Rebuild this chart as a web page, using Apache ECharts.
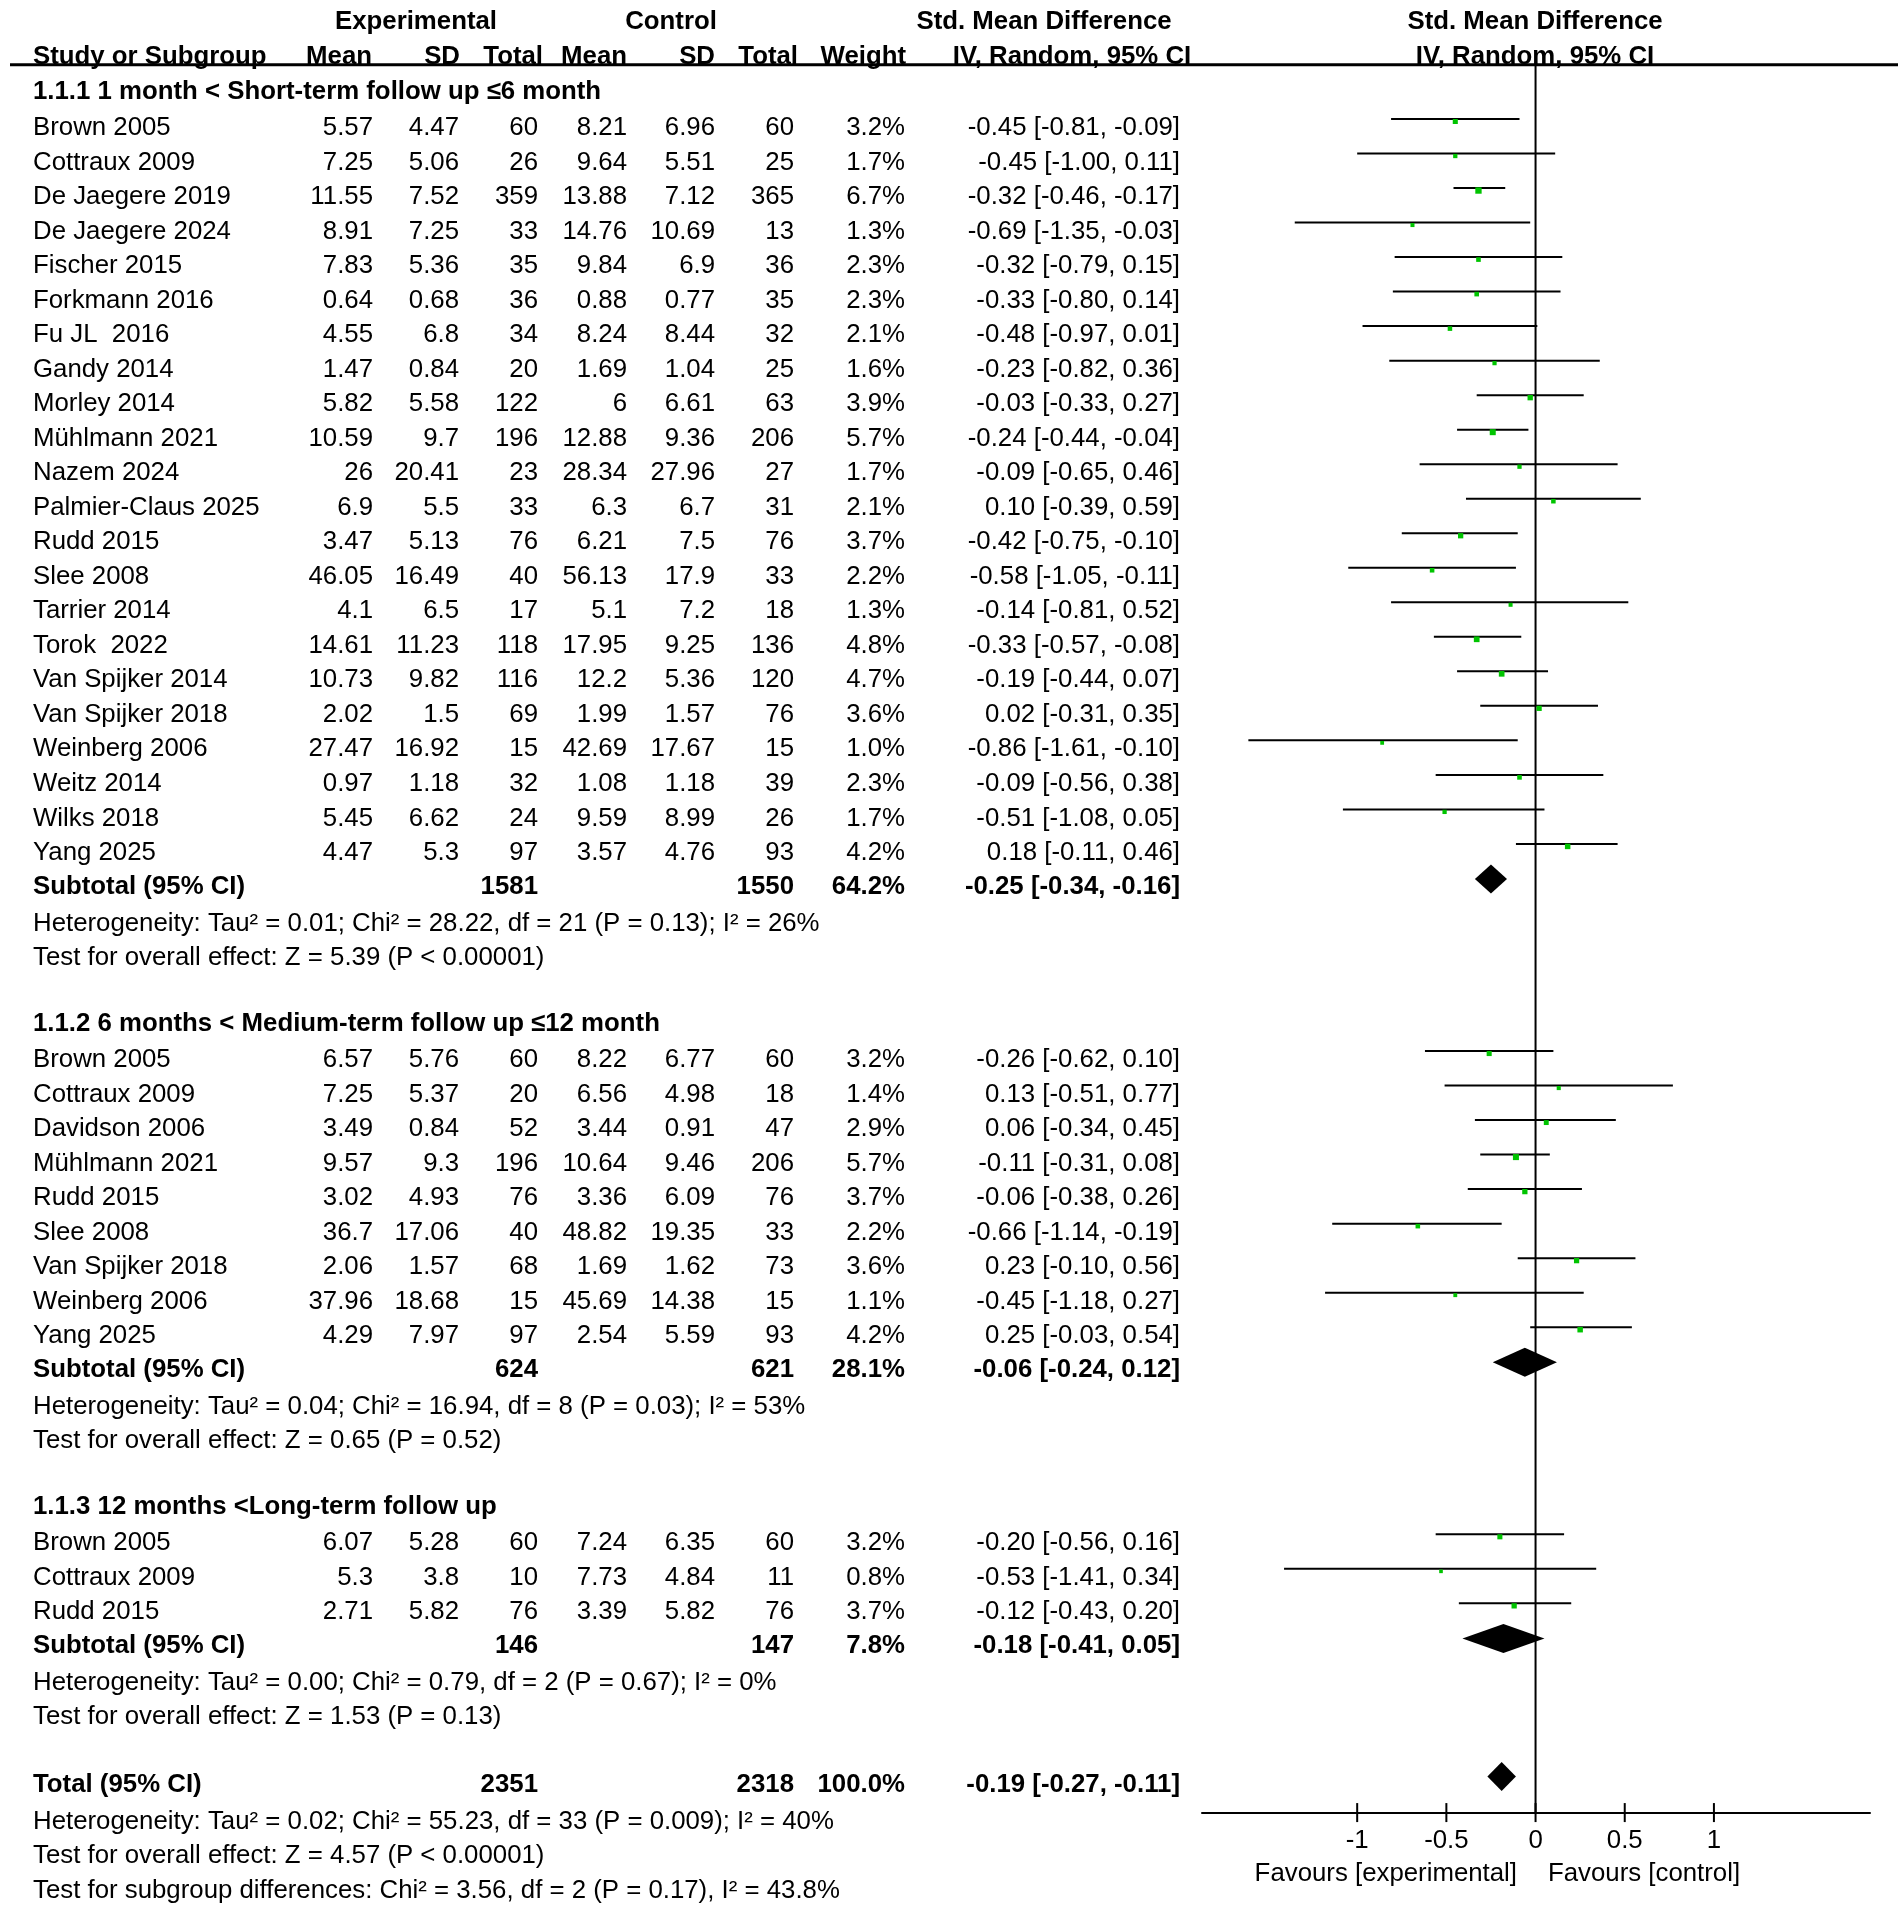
<!DOCTYPE html>
<html><head><meta charset="utf-8">
<script src="https://cdn.jsdelivr.net/npm/echarts@6/dist/echarts.min.js"></script>
<style>html,body{margin:0;padding:0;background:#fff;}#c{width:1901px;height:1916px;}</style>
</head><body><div id="c"></div>
<script>
// ---------- DATA ----------
const groupTitles = [
  "1.1.1 1 month < Short-term follow up \u22646 month",
  "1.1.2 6 months < Medium-term follow up \u226412 month",
  "1.1.3 12 months <Long-term follow up"
];
const studyGroup = [0,0,0,0,0,0,0,0,0,0,0,0,0,0,0,0,0,0,0,0,0,0, 1,1,1,1,1,1,1,1,1, 2,2,2];
const studyNames = [
  "Brown 2005","Cottraux 2009","De Jaegere 2019","De Jaegere 2024","Fischer 2015","Forkmann 2016","Fu JL  2016","Gandy 2014","Morley 2014","M\u00fchlmann 2021","Nazem 2024","Palmier-Claus 2025","Rudd 2015","Slee 2008","Tarrier 2014","Torok  2022","Van Spijker 2014","Van Spijker 2018","Weinberg 2006","Weitz 2014","Wilks 2018","Yang 2025",
  "Brown 2005","Cottraux 2009","Davidson 2006","M\u00fchlmann 2021","Rudd 2015","Slee 2008","Van Spijker 2018","Weinberg 2006","Yang 2025",
  "Brown 2005","Cottraux 2009","Rudd 2015"
];
const expMean = [5.57,7.25,11.55,8.91,7.83,0.64,4.55,1.47,5.82,10.59,26,6.9,3.47,46.05,4.1,14.61,10.73,2.02,27.47,0.97,5.45,4.47,
  6.57,7.25,3.49,9.57,3.02,36.7,2.06,37.96,4.29, 6.07,5.3,2.71];
const expSD = [4.47,5.06,7.52,7.25,5.36,0.68,6.8,0.84,5.58,9.7,20.41,5.5,5.13,16.49,6.5,11.23,9.82,1.5,16.92,1.18,6.62,5.3,
  5.76,5.37,0.84,9.3,4.93,17.06,1.57,18.68,7.97, 5.28,3.8,5.82];
const expTotal = [60,26,359,33,35,36,34,20,122,196,23,33,76,40,17,118,116,69,15,32,24,97,
  60,20,52,196,76,40,68,15,97, 60,10,76];
const ctlMean = [8.21,9.64,13.88,14.76,9.84,0.88,8.24,1.69,6,12.88,28.34,6.3,6.21,56.13,5.1,17.95,12.2,1.99,42.69,1.08,9.59,3.57,
  8.22,6.56,3.44,10.64,3.36,48.82,1.69,45.69,2.54, 7.24,7.73,3.39];
const ctlSD = [6.96,5.51,7.12,10.69,6.9,0.77,8.44,1.04,6.61,9.36,27.96,6.7,7.5,17.9,7.2,9.25,5.36,1.57,17.67,1.18,8.99,4.76,
  6.77,4.98,0.91,9.46,6.09,19.35,1.62,14.38,5.59, 6.35,4.84,5.82];
const ctlTotal = [60,25,365,13,36,35,32,25,63,206,27,31,76,33,18,136,120,76,15,39,26,93,
  60,18,47,206,76,33,73,15,93, 60,11,76];
const studyWeight = [3.2,1.7,6.7,1.3,2.3,2.3,2.1,1.6,3.9,5.7,1.7,2.1,3.7,2.2,1.3,4.8,4.7,3.6,1.0,2.3,1.7,4.2,
  3.2,1.4,2.9,5.7,3.7,2.2,3.6,1.1,4.2, 3.2,0.8,3.7];
const studySMD = [-0.45,-0.45,-0.32,-0.69,-0.32,-0.33,-0.48,-0.23,-0.03,-0.24,-0.09,0.10,-0.42,-0.58,-0.14,-0.33,-0.19,0.02,-0.86,-0.09,-0.51,0.18,
  -0.26,0.13,0.06,-0.11,-0.06,-0.66,0.23,-0.45,0.25, -0.20,-0.53,-0.12];
const studyLow = [-0.81,-1.00,-0.46,-1.35,-0.79,-0.80,-0.97,-0.82,-0.33,-0.44,-0.65,-0.39,-0.75,-1.05,-0.81,-0.57,-0.44,-0.31,-1.61,-0.56,-1.08,-0.11,
  -0.62,-0.51,-0.34,-0.31,-0.38,-1.14,-0.10,-1.18,-0.03, -0.56,-1.41,-0.43];
const studyHigh = [-0.09,0.11,-0.17,-0.03,0.15,0.14,0.01,0.36,0.27,-0.04,0.46,0.59,-0.10,-0.11,0.52,-0.08,0.07,0.35,-0.10,0.38,0.05,0.46,
  0.10,0.77,0.45,0.08,0.26,-0.19,0.56,0.27,0.54, 0.16,0.34,0.20];

const subExpTotal = [1581, 624, 146];
const subCtlTotal = [1550, 621, 147];
const subWeight = [64.2, 28.1, 7.8];
const subSMD = [-0.25, -0.06, -0.18];
const subLow = [-0.34, -0.24, -0.41];
const subHigh = [-0.16, 0.12, 0.05];
const subHet = [
  "Heterogeneity: Tau\u00b2 = 0.01; Chi\u00b2 = 28.22, df = 21 (P = 0.13); I\u00b2 = 26%",
  "Heterogeneity: Tau\u00b2 = 0.04; Chi\u00b2 = 16.94, df = 8 (P = 0.03); I\u00b2 = 53%",
  "Heterogeneity: Tau\u00b2 = 0.00; Chi\u00b2 = 0.79, df = 2 (P = 0.67); I\u00b2 = 0%"
];
const subTest = [
  "Test for overall effect: Z = 5.39 (P < 0.00001)",
  "Test for overall effect: Z = 0.65 (P = 0.52)",
  "Test for overall effect: Z = 1.53 (P = 0.13)"
];
const totalValues = [2351, 2318, 100.0, -0.19, -0.27, -0.11]; // expN, ctlN, weight, smd, low, high
const totalNotes = [
  "Heterogeneity: Tau\u00b2 = 0.02; Chi\u00b2 = 55.23, df = 33 (P = 0.009); I\u00b2 = 40%",
  "Test for overall effect: Z = 4.57 (P < 0.00001)",
  "Test for subgroup differences: Chi\u00b2 = 3.56, df = 2 (P = 0.17), I\u00b2 = 43.8%"
];
const xTicks = [-1, -0.5, 0, 0.5, 1];
const favourLabels = ["Favours [experimental]", "Favours [control]"];

// ---------- LAYOUT ----------
const FS = 25.8;
const FONT = '"Liberation Sans", Arial, Helvetica, sans-serif';
const COL = {name:33, expMean:373, expSD:459, expTotal:538, ctlMean:627, ctlSD:715, ctlTotal:794, weight:905, ci:1180};
const HCOL = {expMean:372, expSD:460, expTotal:543, ctlMean:627, ctlSD:715, ctlTotal:798, weight:906};
const ROW_TOP = -3.5, ROW_BOT = 51.5, ROW_AXIS = 48.80, ROW_LINE = -1.83;
const ROWPX = 34.52, Y0 = 128;
const gridTop = Y0 + ROW_TOP * ROWPX;

const fmtCI = (m,l,h) => m.toFixed(2) + " [" + l.toFixed(2) + ", " + h.toFixed(2) + "]";
const rows = [];   // text rows
const studyMarks = [];
const diamondMarks = [];

rows.push({k:-3.07, cells:[
  {x:416, t:"Experimental", b:1, a:'center'},
  {x:671, t:"Control", b:1, a:'center'},
  {x:1044, t:"Std. Mean Difference", b:1, a:'center'},
  {x:1535, t:"Std. Mean Difference", b:1, a:'center'}
]});
rows.push({k:-2.06, cells:[
  {x:COL.name, t:"Study or Subgroup", b:1},
  {x:HCOL.expMean, t:"Mean", b:1, a:'right'},
  {x:HCOL.expSD, t:"SD", b:1, a:'right'},
  {x:HCOL.expTotal, t:"Total", b:1, a:'right'},
  {x:HCOL.ctlMean, t:"Mean", b:1, a:'right'},
  {x:HCOL.ctlSD, t:"SD", b:1, a:'right'},
  {x:HCOL.ctlTotal, t:"Total", b:1, a:'right'},
  {x:HCOL.weight, t:"Weight", b:1, a:'right'},
  {x:1072, t:"IV, Random, 95% CI", b:1, a:'center'},
  {x:1535, t:"IV, Random, 95% CI", b:1, a:'center'}
]});

let r = -1;
for (let g = 0; g < groupTitles.length; g++) {
  rows.push({k:r - 0.05, cells:[{x:COL.name, t:groupTitles[g], b:1}]});
  r++;
  for (let i = 0; i < studyNames.length; i++) {
    if (studyGroup[i] !== g) continue;
    rows.push({k:r, cells:[
      {x:COL.name, t:studyNames[i]},
      {x:COL.expMean, t:String(expMean[i]), a:'right'},
      {x:COL.expSD, t:String(expSD[i]), a:'right'},
      {x:COL.expTotal, t:String(expTotal[i]), a:'right'},
      {x:COL.ctlMean, t:String(ctlMean[i]), a:'right'},
      {x:COL.ctlSD, t:String(ctlSD[i]), a:'right'},
      {x:COL.ctlTotal, t:String(ctlTotal[i]), a:'right'},
      {x:COL.weight, t:studyWeight[i].toFixed(1) + "%", a:'right'},
      {x:COL.ci, t:fmtCI(studySMD[i], studyLow[i], studyHigh[i]), a:'right'}
    ]});
    studyMarks.push([studySMD[i], studyLow[i], studyHigh[i], r, studyWeight[i]]);
    r++;
  }
  rows.push({k:r - 0.03, cells:[
    {x:COL.name, t:"Subtotal (95% CI)", b:1},
    {x:COL.expTotal, t:String(subExpTotal[g]), b:1, a:'right'},
    {x:COL.ctlTotal, t:String(subCtlTotal[g]), b:1, a:'right'},
    {x:COL.weight, t:subWeight[g].toFixed(1) + "%", b:1, a:'right'},
    {x:COL.ci, t:fmtCI(subSMD[g], subLow[g], subHigh[g]), b:1, a:'right'}
  ]});
  diamondMarks.push([subSMD[g], subLow[g], subHigh[g], r]);
  rows.push({k:r + 1.05, cells:[{x:COL.name, t:subHet[g]}]});
  rows.push({k:r + 2.04, cells:[{x:COL.name, t:subTest[g]}]});
  r += 4;
}
rows.push({k:r, cells:[
  {x:COL.name, t:"Total (95% CI)", b:1},
  {x:COL.expTotal, t:String(totalValues[0]), b:1, a:'right'},
  {x:COL.ctlTotal, t:String(totalValues[1]), b:1, a:'right'},
  {x:COL.weight, t:totalValues[2].toFixed(1) + "%", b:1, a:'right'},
  {x:COL.ci, t:fmtCI(totalValues[3], totalValues[4], totalValues[5]), b:1, a:'right'}
]});
diamondMarks.push([totalValues[3], totalValues[4], totalValues[5], r]);
for (let j = 0; j < totalNotes.length; j++) {
  rows.push({k:r + 1.06 + j, cells:[{x:COL.name, t:totalNotes[j]}]});
}
rows.push({k:50.57, cells:[
  {x:1517, t:favourLabels[0], a:'right'},
  {x:1548, t:favourLabels[1], a:'left'}
]});

// ---------- CHART ----------
const chart = echarts.init(document.getElementById('c'), null, {renderer:'canvas'});
const hiddenAxis = {show:false, splitLine:{show:false}};
const option = {
  backgroundColor:'#ffffff',
  animation:false,
  grid:[
    {left:1202, width:668, top:gridTop, height:(ROW_AXIS - ROW_TOP) * ROWPX},
    {left:0, width:1901, top:gridTop, height:(ROW_BOT - ROW_TOP) * ROWPX}
  ],
  xAxis:[
    {type:'value', gridIndex:0, min:-1.87, max:1.875, splitLine:{show:false},
      axisLine:{show:true, onZero:false, lineStyle:{color:'#000', width:2}},
      axisTick:{show:false},
      axisLabel:{show:true, customValues:xTicks, formatter:v => String(v), color:'#000', fontSize:FS, fontFamily:FONT, margin:15}},
    Object.assign({type:'value', gridIndex:1, min:0, max:1901}, hiddenAxis)
  ],
  yAxis:[
    Object.assign({type:'value', gridIndex:0, min:ROW_TOP, max:ROW_AXIS, inverse:true}, hiddenAxis),
    Object.assign({type:'value', gridIndex:1, min:ROW_TOP, max:ROW_BOT, inverse:true}, hiddenAxis)
  ],
  series:[
    // header underline
    {type:'line', xAxisIndex:1, yAxisIndex:1, data:[[10, ROW_LINE],[1898, ROW_LINE]], symbol:'none',
      lineStyle:{color:'#000', width:3}, silent:true, z:2},
    // line of no effect
    {type:'line', xAxisIndex:0, yAxisIndex:0, data:[[0, ROW_LINE],[0, ROW_AXIS]], symbol:'none',
      lineStyle:{color:'#000', width:2}, silent:true, z:2},
    // axis ticks (crossing the axis line)
    {type:'custom', xAxisIndex:0, yAxisIndex:0, clip:false, silent:true, z:3,
      data:xTicks.map(v => [v, ROW_AXIS]),
      renderItem:function(params, api){
        const p = api.coord([api.value(0), api.value(1)]);
        return {type:'line', shape:{x1:p[0], y1:p[1]-9.5, x2:p[0], y2:p[1]+9.5}, style:{stroke:'#000', lineWidth:2}};
      }},
    // study CIs and squares
    {type:'custom', xAxisIndex:0, yAxisIndex:0, clip:false, silent:true, z:4,
      data:studyMarks, encode:{x:[0,1,2], y:3},
      renderItem:function(params, api){
        const k = api.value(3);
        const pm = api.coord([api.value(0), k]);
        const pl = api.coord([api.value(1), k]);
        const ph = api.coord([api.value(2), k]);
        const y = pm[1] - 9;
        const s = 2.2 + 1.6 * Math.sqrt(api.value(4));
        return {type:'group', children:[
          {type:'line', shape:{x1:pl[0], y1:y, x2:ph[0], y2:y}, style:{stroke:'#000', lineWidth:2}},
          {type:'rect', shape:{x:pm[0]-s/2, y:y+2.5-s/2, width:s, height:s}, style:{fill:'#00c400'}}
        ]};
      }},
    // pooled diamonds
    {type:'custom', xAxisIndex:0, yAxisIndex:0, clip:false, silent:true, z:4,
      data:diamondMarks, encode:{x:[0,1,2], y:3},
      renderItem:function(params, api){
        const k = api.value(3);
        const pm = api.coord([api.value(0), k]);
        const pl = api.coord([api.value(1), k]);
        const ph = api.coord([api.value(2), k]);
        const y = pm[1] - 8.5;
        return {type:'polygon', shape:{points:[[pl[0], y],[pm[0], y-14.5],[ph[0], y],[pm[0], y+14.5]]}, style:{fill:'#000'}};
      }},
    // table text
    {type:'custom', xAxisIndex:1, yAxisIndex:1, clip:false, silent:true, z:5,
      data:rows.map(rw => [0, rw.k]),
      renderItem:function(params, api){
        const rw = rows[params.dataIndex];
        return {type:'group', children:rw.cells.map(c => {
          const p = api.coord([c.x, rw.k]);
          return {type:'text', x:p[0], y:p[1], style:{
            text:c.t, fill:'#000', fontSize:FS, fontFamily:FONT, fontWeight:c.b ? 'bold' : 'normal',
            align:c.a || 'left', verticalAlign:'middle'}};
        })};
      }}
  ]
};
chart.setOption(option);
</script></body></html>
